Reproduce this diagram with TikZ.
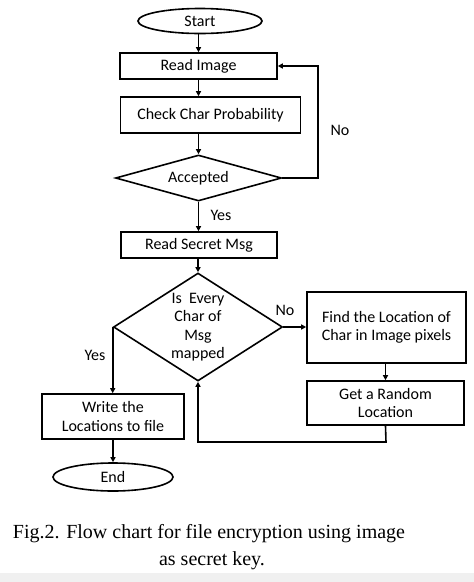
\documentclass[tikz,border=0pt]{standalone}
\usepackage{fontspec}
\setmainfont{Liberation Serif}
\newfontfamily\boxfont{Carlito}
\usetikzlibrary{shapes.geometric,arrows.meta}
\begin{document}
\begin{tikzpicture}[x=1pt,y=-1pt,
  every node/.style={font=\boxfont\fontsize{16}{18.5}\selectfont, align=center},
  proc/.style={draw, line width=1.6pt, inner sep=0pt, minimum width=#1},
  term/.style={draw, ellipse, line width=1.6pt, inner sep=0pt},
  decision/.style={draw, diamond, line width=1.6pt, inner sep=0pt},
  flow/.style={line width=1.6pt, -{Triangle[length=5pt,width=5pt]}},
  lbl/.style={font=\boxfont\fontsize{16}{18}\selectfont}
]
\useasboundingbox (0,0) rectangle (474,582);
\fill[gray!12] (0,573) rectangle (474,582);

\node[term, minimum width=124pt, minimum height=25pt] (start) at (200,21) {Start};
\node[proc=157pt, minimum height=26pt] (read) at (198.5,66) {Read Image};
\node[proc=180pt, minimum height=36pt] (check) at (210.5,115) {Check Char Probability};
\node[decision, aspect=3.6, minimum width=166pt, minimum height=46pt] (acc) at (198.5,178) {Accepted};
\node[proc=156pt, minimum height=26pt] (secret) at (199,245) {Read Secret Msg};
\node[decision, minimum width=169pt, minimum height=108pt] (every) at (198,327) {};
\node at (198,327) {Is~~Every\\Char of\\Msg\\mapped};
\node[proc=159pt, minimum height=71pt] (find) at (386.5,327.5) {Find the Location of\\Char in Image pixels};
\node[proc=157pt, minimum height=44pt] (rand) at (385.5,403) {Get a Random\\Location};
\node[proc=142pt, minimum height=45pt] (write) at (113,416.5) {Write the\\Locations to file};
\node[term, minimum width=120pt, minimum height=28pt] (end) at (113,477) {End};

\coordinate (loopR) at (318,178);
\coordinate (loopB) at (386,442);

\draw[flow] (start.south -| read.north) -- (read.north);
\draw[flow] (read.south) -- (read.south |- check.north);
\draw[flow] (check.south -| acc.north) -- (acc.north);
\draw[flow] (acc.east) -- (loopR) |- (read.east);
\draw[flow] (acc.south) -- (acc.south |- secret.north);
\draw[flow] (secret.south -| every.north) -- (every.north);
\draw[flow] (every.east) -- (find.west |- every.east);
\draw[flow] (find.south -| rand.north) -- (rand.north);
\draw[flow] (rand.south) -- (loopB) -| (every.south);
\draw[flow] (every.west) -- (every.west |- write.north);
\draw[flow] (write.south) -- (end.north);

\node[lbl] (no1) at (340,130) {No};
\node[lbl] (yes1) at (221,215) {Yes};
\node[lbl] (no2) at (285,310) {No};
\node[lbl] (yes2) at (95,355) {Yes};

\node[font=\rmfamily\fontsize{20}{27}\selectfont, anchor=base] (cap1) at (209,538) {Fig.2. Flow chart for file encryption using image};
\node[font=\rmfamily\fontsize{20}{27}\selectfont, anchor=base] (cap2) at (212,565) {as secret key.};
\end{tikzpicture}
\end{document}
